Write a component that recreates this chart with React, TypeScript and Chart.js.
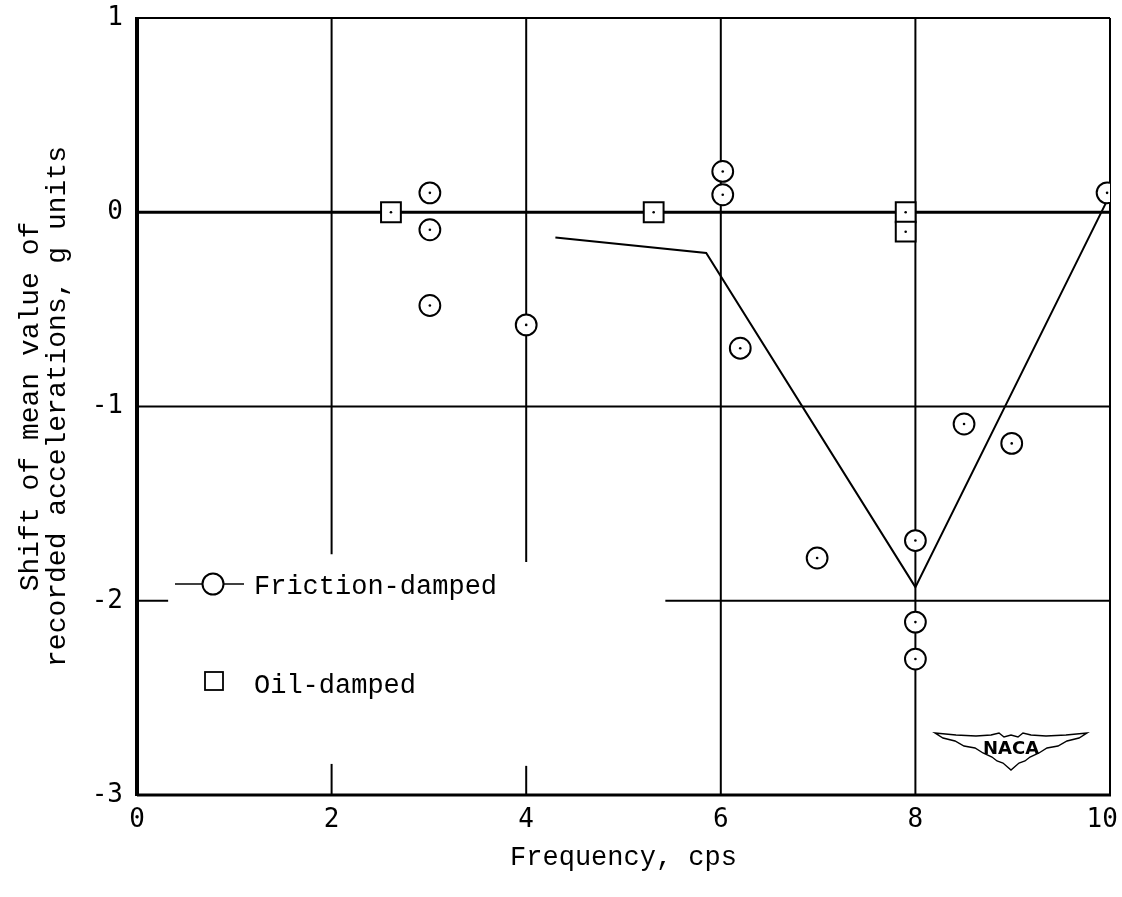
import React, { useEffect, useRef } from "react";
import { Chart, registerables } from "chart.js";

Chart.register(...registerables);

// ---- Data ----
const xTickValues = [0, 2, 4, 6, 8, 10];
const yTickValues = [-3, -2, -1, 0, 1];

const frictionX = [3.01, 3.01, 3.01, 4.0, 6.02, 6.02, 6.2, 6.99, 8.0, 8.0, 8.0, 8.5, 8.99, 9.97];
const frictionY = [0.1, -0.09, -0.48, -0.58, 0.21, 0.09, -0.7, -1.78, -1.69, -2.11, -2.3, -1.09, -1.19, 0.1];

const oilX = [2.61, 5.31, 7.9, 7.9];
const oilY = [0.0, 0.0, 0.0, -0.1];

const fairedX = [4.3, 5.85, 8.0, 9.97];
const fairedY = [-0.13, -0.21, -1.93, 0.06];

// grid segments in data units
const vSegX = [2, 2, 4, 4, 6, 8, 10];
const vSegFrom = [1, -2.84, 1, -2.85, 1, 1, 1];
const vSegTo = [-1.76, -3, -1.8, -3, -3, -3, -3];

const hSegY = [1, -1, -2, -2];
const hSegFrom = [0, 0, 0, 5.43];
const hSegTo = [10, 10, 0.32, 10];

const legendLabels = ["Friction-damped", "Oil-damped"];

const gridPlugin = {
  id: "naca-grid",
  beforeDatasetsDraw(chart: any) {
    const { ctx, scales } = chart;
    const xs = scales.x;
    const ys = scales.y;
    ctx.save();
    ctx.strokeStyle = "#000";
    ctx.lineCap = "butt";
    ctx.lineWidth = 2;
    for (let i = 0; i < vSegX.length; i++) {
      const px = xs.getPixelForValue(vSegX[i]);
      ctx.beginPath();
      ctx.moveTo(px, ys.getPixelForValue(vSegFrom[i]));
      ctx.lineTo(px, ys.getPixelForValue(vSegTo[i]));
      ctx.stroke();
    }
    for (let i = 0; i < hSegY.length; i++) {
      const py = ys.getPixelForValue(hSegY[i]);
      ctx.beginPath();
      ctx.moveTo(xs.getPixelForValue(hSegFrom[i]), py);
      ctx.lineTo(xs.getPixelForValue(hSegTo[i]), py);
      ctx.stroke();
    }
    // zero line (heavy)
    ctx.lineWidth = 3;
    const y0 = ys.getPixelForValue(0);
    ctx.beginPath();
    ctx.moveTo(xs.getPixelForValue(0), y0);
    ctx.lineTo(xs.getPixelForValue(10), y0);
    ctx.stroke();
    // bottom axis
    const yb = ys.getPixelForValue(-3);
    ctx.beginPath();
    ctx.moveTo(xs.getPixelForValue(0), yb);
    ctx.lineTo(xs.getPixelForValue(10) + 1, yb);
    ctx.stroke();
    // left axis (heavy)
    ctx.lineWidth = 4;
    const xl = xs.getPixelForValue(0);
    ctx.beginPath();
    ctx.moveTo(xl, ys.getPixelForValue(1) - 1);
    ctx.lineTo(xl, yb + 1);
    ctx.stroke();
    ctx.restore();
  },
};

const dotPlugin = {
  id: "center-dots",
  afterDatasetsDraw(chart: any) {
    const { ctx } = chart;
    ctx.save();
    ctx.fillStyle = "#000";
    [0, 1].forEach((di) => {
      const meta = chart.getDatasetMeta(di);
      meta.data.forEach((el: any) => {
        ctx.beginPath();
        ctx.arc(el.x, el.y, 1.3, 0, Math.PI * 2);
        ctx.fill();
      });
    });
    ctx.restore();
  },
};

const legendPlugin = {
  id: "custom-legend",
  afterDraw(chart: any) {
    const { ctx, chartArea } = chart;
    const l = chartArea.left;
    const t = chartArea.top;
    ctx.save();
    ctx.strokeStyle = "#000";
    ctx.fillStyle = "#000";
    // friction entry
    const fy = t + 566;
    ctx.lineWidth = 1.5;
    ctx.beginPath();
    ctx.moveTo(l + 38, fy);
    ctx.lineTo(l + 107, fy);
    ctx.stroke();
    ctx.fillStyle = "#fff";
    ctx.lineWidth = 2;
    ctx.beginPath();
    ctx.arc(l + 76, fy, 10.5, 0, Math.PI * 2);
    ctx.fill();
    ctx.stroke();
    ctx.fillStyle = "#000";
    ctx.font = "27px 'Liberation Mono'";
    ctx.textBaseline = "middle";
    ctx.textAlign = "left";
    ctx.fillText(legendLabels[0], l + 117, fy + 3);
    // oil entry
    const oy = t + 663;
    ctx.lineWidth = 1.8;
    ctx.strokeRect(l + 68, oy - 9, 18, 18);
    ctx.fillText(legendLabels[1], l + 117, oy + 5);

    // NACA logo
    const cx = chartArea.right - 99;
    const ty = chartArea.bottom - 62;
    const top = [
      [-76, 0], [-55, 2], [-35, 3], [-20, 2], [-12, 0], [-7, 4], [0, 2],
      [7, 4], [12, 0], [20, 2], [35, 3], [55, 2], [76, 0],
    ];
    const bot = [
      [76, 0], [68, 5], [56, 8], [47, 13], [36, 15], [28, 20], [19, 24],
      [14, 28], [8, 30], [0, 37], [-8, 30], [-14, 28], [-19, 24], [-28, 20],
      [-36, 15], [-47, 13], [-56, 8], [-68, 5], [-76, 0],
    ];
    ctx.lineWidth = 1.4;
    ctx.beginPath();
    top.forEach((p, i) => (i === 0 ? ctx.moveTo(cx + p[0], ty + p[1]) : ctx.lineTo(cx + p[0], ty + p[1])));
    bot.forEach((p) => ctx.lineTo(cx + p[0], ty + p[1]));
    ctx.closePath();
    ctx.stroke();
    ctx.font = "bold 18px 'DejaVu Sans'";
    ctx.textAlign = "center";
    ctx.fillText("NACA", cx, ty + 16);
    ctx.restore();
  },
};

const CANVAS_W = 1160;
const CANVAS_H = 927;
const SHIFT_UP = 30;

export default function App() {
  const ref = useRef<HTMLCanvasElement>(null);

  useEffect(() => {
    document.body.style.margin = "0";
    document.body.style.overflow = "hidden";
    const canvas = ref.current;
    if (!canvas) return;
    const chart = new Chart(canvas, {
      type: "scatter",
      data: {
        datasets: [
          {
            label: legendLabels[0],
            data: frictionX.map((x, i) => ({ x, y: frictionY[i] })),
            pointStyle: "circle",
            pointRadius: 10.4,
            pointBorderWidth: 2,
            pointBackgroundColor: "#fff",
            pointBorderColor: "#000",
            showLine: false,
          },
          {
            label: legendLabels[1],
            data: oilX.map((x, i) => ({ x, y: oilY[i] })),
            pointStyle: "rect",
            pointRadius: 14,
            pointBorderWidth: 2,
            pointBackgroundColor: "#fff",
            pointBorderColor: "#000",
            showLine: false,
          },
          {
            label: "faired",
            data: fairedX.map((x, i) => ({ x, y: fairedY[i] })),
            showLine: true,
            borderColor: "#000",
            borderWidth: 2,
            pointRadius: 0,
            fill: false,
            tension: 0,
          },
        ],
      } as any,
      options: {
        animation: false,
        responsive: false,
        events: [],
        layout: { padding: { left: 0, top: 18 + SHIFT_UP, right: CANVAS_W - 1110, bottom: 0 } },
        plugins: {
          legend: { display: false },
          tooltip: { enabled: false },
        },
        scales: {
          x: {
            type: "linear",
            min: 0,
            max: 10,
            afterBuildTicks: (s: any) => {
              s.ticks = xTickValues.map((v) => ({ value: v }));
            },
            afterFit: (s: any) => {
              s.height = 102;
            },
            grid: { display: false, drawTicks: false },
            border: { display: false },
            ticks: {
              color: "#000",
              padding: 10,
              maxRotation: 0,
              autoSkip: false,
              font: { family: "'DejaVu Sans Mono'", size: 26 },
              callback: (v: any) => (v === 10 ? "10 " : String(v)),
            },
            title: {
              display: true,
              text: "Frequency, cps",
              color: "#000",
              padding: { top: 0, bottom: 23 },
              font: { family: "'Liberation Mono'", size: 27 },
            },
          },
          y: {
            type: "linear",
            min: -3,
            max: 1,
            afterBuildTicks: (s: any) => {
              s.ticks = yTickValues.map((v) => ({ value: v }));
            },
            afterFit: (s: any) => {
              s.width = 137;
            },
            grid: { display: false, drawTicks: false },
            border: { display: false },
            ticks: {
              color: "#000",
              padding: 14,
              autoSkip: false,
              font: { family: "'DejaVu Sans Mono'", size: 26 },
            },
            title: {
              display: true,
              text: ["Shift of mean value of", "recorded accelerations, g units"],
              color: "#000",
              padding: { top: 17, bottom: 0 },
              font: { family: "'Liberation Mono'", size: 28, lineHeight: 0.97 },
            },
          },
        },
      } as any,
      plugins: [gridPlugin, dotPlugin, legendPlugin],
    });
    return () => chart.destroy();
  }, []);

  return (
    <div style={{ width: 1122, height: 897, position: "relative", overflow: "hidden", background: "#fff" }}>
      <canvas
        ref={ref}
        width={CANVAS_W}
        height={CANVAS_H}
        style={{ position: "absolute", left: 0, top: -SHIFT_UP, width: CANVAS_W, height: CANVAS_H }}
      />
    </div>
  );
}
